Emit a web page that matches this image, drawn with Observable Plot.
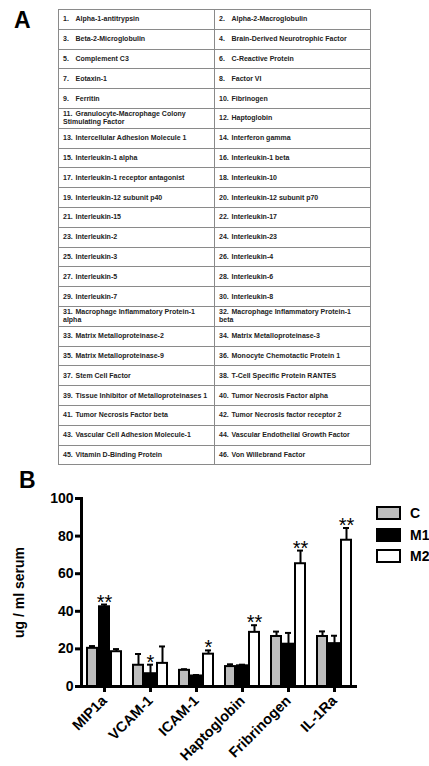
<!DOCTYPE html>
<html><head><meta charset="utf-8">
<script src="https://cdn.jsdelivr.net/npm/d3@7"></script>
<script src="https://cdn.jsdelivr.net/npm/@observablehq/plot@0.6"></script>
<style>
body{margin:0;background:#fff;font-family:"Liberation Sans",Arial,sans-serif;}
#wrap{position:relative;width:429px;height:766px;overflow:hidden;}
.panel{position:absolute;font-weight:bold;font-size:23px;line-height:23px;color:#000;}
#tbl{position:absolute;left:58px;top:9px;width:313px;border-collapse:collapse;table-layout:fixed;}
#tbl td{border:1px solid #8a8a8a;height:18.8px;padding:0 0 0 4px;font-size:7px;font-weight:bold;color:#222;line-height:8px;vertical-align:middle;}
#tbl .n{display:inline-block;width:12.5px;}
#chart{position:absolute;left:0;top:470px;}
#legend{position:absolute;left:376px;top:502px;}
.li{display:flex;align-items:center;height:22px;margin-top:-0.5px;}
.li:first-child{margin-top:0}
.sw{width:21px;height:10px;border:2px solid #000;margin-right:9px;}
.lt{font-weight:bold;font-size:14px;}
</style></head>
<body><div id="wrap">
<div class="panel" style="left:14px;top:9px">A</div>
<table id="tbl"></table>
<div class="panel" style="left:19px;top:469px">B</div>
<div id="chart"></div>
<div id="legend"></div>
</div>
<script>
const proteins = ["Alpha-1-antitrypsin","Alpha-2-Macroglobulin","Beta-2-Microglobulin","Brain-Derived Neurotrophic Factor","Complement C3","C-Reactive Protein","Eotaxin-1","Factor VI","Ferritin","Fibrinogen","Granulocyte-Macrophage Colony|Stimulating Factor","Haptoglobin","Intercellular Adhesion Molecule 1","Interferon gamma","Interleukin-1 alpha","Interleukin-1 beta","Interleukin-1 receptor antagonist","Interleukin-10","Interleukin-12 subunit p40","Interleukin-12 subunit p70","Interleukin-15","Interleukin-17","Interleukin-2","Interleukin-23","Interleukin-3","Interleukin-4","Interleukin-5","Interleukin-6","Interleukin-7","Interleukin-8","Macrophage Inflammatory Protein-1|alpha","Macrophage Inflammatory Protein-1|beta","Matrix Metalloproteinase-2","Matrix Metalloproteinase-3","Matrix Metalloproteinase-9","Monocyte Chemotactic Protein 1","Stem Cell Factor","T-Cell Specific Protein RANTES","Tissue Inhibitor of Metalloproteinases 1","Tumor Necrosis Factor alpha","Tumor Necrosis Factor beta","Tumor Necrosis factor receptor 2","Vascular Cell Adhesion Molecule-1","Vascular Endothelial Growth Factor","Vitamin D-Binding Protein","Von Willebrand Factor"];

const categories = ["MIP1a","VCAM-1","ICAM-1","Haptoglobin","Fribrinogen","IL-1Ra"];
const groups = ["C","M1","M2"];
const groupColors = ["#bdbdbd","#000000","#ffffff"];
const valuesC  = [20.3, 11.3, 8.6, 10.6, 26.6, 26.6];
const errorsC  = [1.2, 6.0, 0.6, 1.2, 2.6, 2.7];
const valuesM1 = [42.4, 6.8, 5.6, 11.0, 22.5, 22.8];
const errorsM1 = [1.2, 4.8, 0.5, 0.6, 6.0, 4.2];
const valuesM2 = [18.5, 12.3, 17.2, 28.8, 65.3, 77.8];
const errorsM2 = [1.4, 9.0, 2.0, 3.8, 7.0, 6.5];
const starsC  = ["","","","","",""];
const starsM1 = ["**","*","","","",""];
const starsM2 = ["","","*","**","**","**"];
const yTicks = [0,20,40,60,80,100];
const yLabel = "ug / ml serum";

// table
const tbl = document.getElementById("tbl");
for (let r = 0; r < proteins.length / 2; r++) {
  const tr = document.createElement("tr");
  for (let c = 0; c < 2; c++) {
    const i = r * 2 + c;
    const td = document.createElement("td");
    const parts = proteins[i].split("|");
    const n = document.createElement("span");
    n.className = "n";
    n.textContent = (i + 1) + ".";
    td.appendChild(n);
    td.appendChild(document.createTextNode(parts[0]));
    if (parts[1]) { td.appendChild(document.createElement("br")); td.appendChild(document.createTextNode(parts[1])); }
    tr.appendChild(td);
  }
  tbl.appendChild(tr);
}

// legend
const leg = document.getElementById("legend");
groups.forEach((g, i) => {
  const d = document.createElement("div"); d.className = "li";
  const s = document.createElement("div"); s.className = "sw"; s.style.background = groupColors[i];
  const t = document.createElement("span"); t.className = "lt"; t.textContent = g;
  d.appendChild(s); d.appendChild(t); leg.appendChild(d);
});

const vals = [valuesC, valuesM1, valuesM2], errs = [errorsC, errorsM1, errorsM2], stars = [starsC, starsM1, starsM2];
const rows = categories.flatMap((cat, i) => groups.map((grp, j) => ({cat, grp, v: vals[j][i], e: errs[j][i], s: stars[j][i]})));

const font = "Liberation Sans, Arial, sans-serif";
const chart = Plot.plot({
  width: 429, height: 296,
  marginLeft: 79, marginRight: 71, marginTop: 28, marginBottom: 80,
  style: {fontFamily: font, background: "transparent", color: "#000"},
  fx: {domain: categories, padding: 0, label: null},
  x: {domain: groups, paddingInner: 0.2, paddingOuter: 0.46, axis: null},
  y: {domain: [0, 100]},
  color: {domain: groups, range: groupColors},
  marks: [
    Plot.ruleX(rows, {fx: "cat", x: "grp", y1: "v", y2: d => d.v + d.e, stroke: "#000", strokeWidth: 2}),
    Plot.tickY(rows, {fx: "cat", x: "grp", y: d => d.v + d.e, stroke: "#000", strokeWidth: 2, inset: 2}),
    Plot.barY(rows, {fx: "cat", x: "grp", y: "v", fill: "grp", stroke: "#000", strokeWidth: 2}),
    Plot.text(rows.filter(d => d.s), {fx: "cat", x: "grp", y: d => d.v + d.e, text: "s", fontSize: 20, lineAnchor: "bottom", dy: 4, fill: "#000"}),
    Plot.ruleY([0], {stroke: "#000", strokeWidth: 3}),
    Plot.frame({anchor: "left", facetAnchor: "left", stroke: "#000", strokeWidth: 3}),
    Plot.axisY({ticks: yTicks, tickSize: 6, tickPadding: 2, strokeWidth: 3, fontSize: 14, fontWeight: "bold", label: yLabel, labelAnchor: "center", labelOffset: 67, labelArrow: "none"}),
    Plot.axisFx({anchor: "bottom", tickRotate: -45, tickSize: 6, strokeWidth: 3, fontSize: 14.5, fontWeight: "bold", label: null})
  ]
});
document.getElementById("chart").appendChild(chart);
</script>
</body></html>
